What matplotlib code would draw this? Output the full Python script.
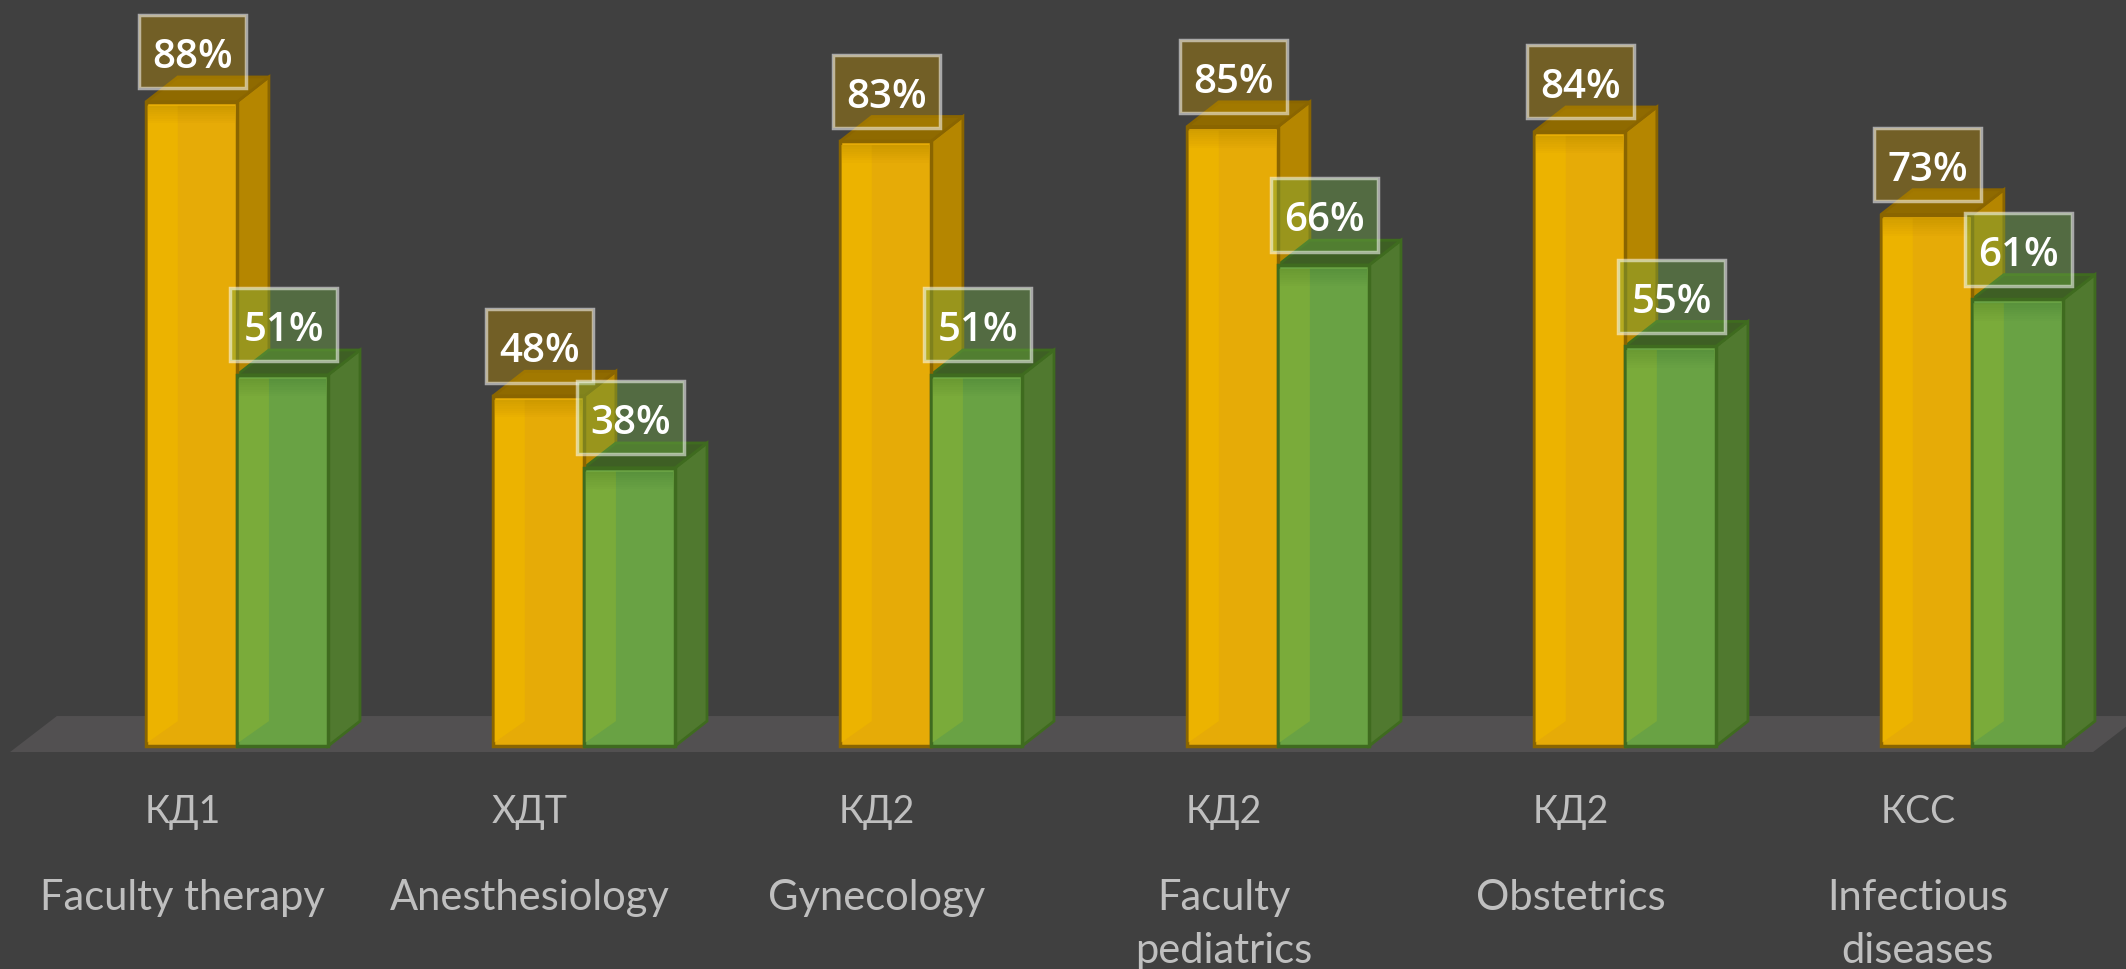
import matplotlib
matplotlib.use("Agg")
import matplotlib.pyplot as plt
from matplotlib.patches import Polygon, Rectangle

plt.rcParams['font.family'] = ['Lato', 'Open Sans', 'DejaVu Sans']

codes = ["КД1", "ХДТ", "КД2", "КД2", "КД2", "КСС"]
names = ["Faculty therapy", "Anesthesiology", "Gynecology",
         "Faculty\npediatrics", "Obstetrics", "Infectious\ndiseases"]
# heights, the printed labels are rounded
yellow_vals = [88, 47.8, 82.6, 84.6, 83.9, 72.6]
green_vals = [50.7, 38, 50.7, 65.7, 54.6, 61]

BG = "#404040"
bar_w = 0.2625
dx = 0.092   # depth of the fake 3d
dy = 3.4

fig = plt.figure(figsize=(21.26, 9.7), dpi=100, facecolor=BG)
ax = fig.add_axes([0, 0, 1, 1])
ax.set_xlim(-0.683, 5.444)
ax.set_ylim(-30.46, 102.05)
ax.axis("off")

# floor
ax.add_patch(Polygon([(-0.654, -0.82), (-0.519, 4.1), (5.484, 4.1), (5.349, -0.82)],
                     closed=True, fc="#525051", ec="none", zorder=1))


def bar3d(x, val, front, light, side, top, edge):
    ax.add_patch(Polygon([(x + bar_w, 0), (x + bar_w + dx, dy), (x + bar_w + dx, val + dy), (x + bar_w, val)],
                         closed=True, fc=side, ec=edge, lw=2, zorder=2))
    ax.add_patch(Polygon([(x, val), (x + dx, val + dy), (x + bar_w + dx, val + dy), (x + bar_w, val)],
                         closed=True, fc=top, ec=edge, lw=2, zorder=2))
    ax.bar(x, val, width=bar_w, align="edge", color=front, edgecolor=edge, linewidth=2.5, zorder=3)
    # lighter bevel on the left of the front face
    ax.add_patch(Polygon([(x + 0.005, 0.5), (x + dx, dy), (x + dx, val - 0.5), (x + 0.005, val - 0.5)],
                         closed=True, fc=light, ec="none", zorder=3.5))
    # darker fade under the top edge
    for k in range(8):
        ax.add_patch(Rectangle((x + 0.005, val - 0.5 - 0.3 * (k + 1)), bar_w - 0.01, 0.3 * (k + 1),
                               fc="black", ec="none", alpha=0.012, zorder=3.6))


def label(x, val, col):
    cx = x + bar_w / 2 + 0.003
    ax.add_patch(Rectangle((cx - 0.155, val + 1.85), 0.31, 10, fc=col, ec="none", alpha=0.4, zorder=5))
    ax.add_patch(Rectangle((cx - 0.155, val + 1.85), 0.31, 10, fc="none", ec="white", alpha=0.55, lw=2.5, zorder=5))
    ax.text(cx, val + 6.1, "%.0f%%" % val, color="white", fontsize=29, fontweight="semibold",
            family=["Open Sans", "DejaVu Sans"], ha="center", va="center", zorder=6)


for i in range(6):
    xl = i - bar_w
    bar3d(xl, yellow_vals[i], "#E6AB07", "#ECB300", "#B58600", "#8F6A00", "#8A6500")
    bar3d(i, green_vals[i], "#69A244", "#7AAB3A", "#50792F", "#3E5F24", "#3F6B1F")

for i in range(6):
    label(i - bar_w, yellow_vals[i], "#BF9000")
    label(i, green_vals[i], "#70AD47")

for i in range(6):
    ax.text(i - 0.156, -8.9, codes[i], color="#BFBFBF", fontsize=27, ha="center", va="center")
    ax.text(i - 0.156, -18.0, names[i], color="#BFBFBF", fontsize=30, ha="center", va="top",
            linespacing=1.5)

fig.savefig("out.png", dpi=100, facecolor=BG)
